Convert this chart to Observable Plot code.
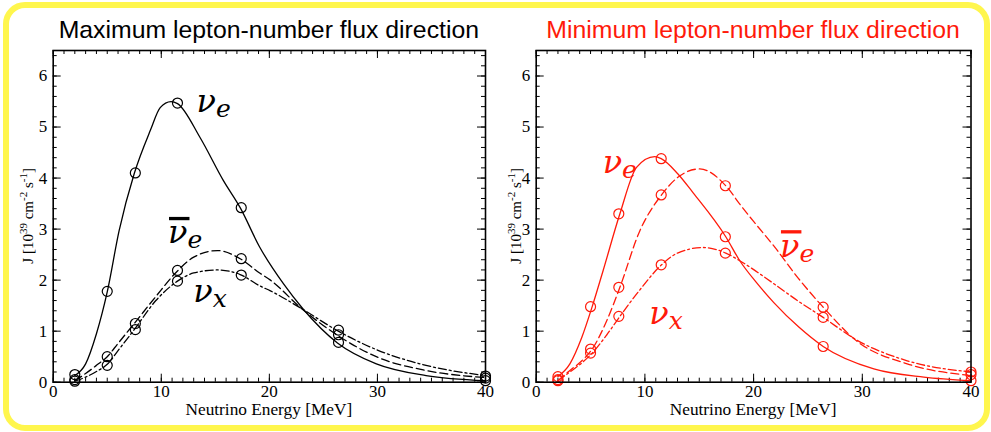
<!DOCTYPE html>
<html>
<head>
<meta charset="utf-8">
<script src="https://cdn.jsdelivr.net/npm/d3@7"></script>
<script src="https://cdn.jsdelivr.net/npm/@observablehq/plot@0.6"></script>
<style>
  body { margin: 0; background: #fff; }
  #page { position: relative; width: 991px; height: 432px; overflow: hidden; background: #fff; }
  .panel { position: absolute; top: 0; }
  .title { position: absolute; top: 18px; font-family: "Liberation Sans", Arial, sans-serif; font-size: 24.8px;
           white-space: nowrap; transform: translateX(-50%); line-height: 1; }
  #border { position: absolute; left: 3px; top: 2px; width: 987px; height: 429px; box-sizing: border-box;
            border: 6px solid #fff64d; border-radius: 22px; pointer-events: none; }
</style>
</head>
<body>
<div id="page"></div>
<script>
// Energy grid of the simulated spectra [MeV]
const energies = [2, 5, 7.6, 11.5, 17.4, 26.4, 40];

// Maximum lepton-number flux direction, simulated J [10^39 cm^-2 s^-1]
const maxNue    = [0.15, 1.78, 4.10, 5.47, 3.42, 0.78, 0.03];
const maxNuebar = [0.05, 0.50, 1.15, 2.19, 2.42, 0.93, 0.08];
const maxNux    = [0.02, 0.33, 1.03, 1.98, 2.10, 1.02, 0.12];

// Minimum lepton-number flux direction, simulated J
const minNue    = [0.11, 1.48, 3.30, 4.38, 2.85, 0.70, 0.03];
const minNuebar = [0.05, 0.65, 1.86, 3.67, 3.85, 1.47, 0.15];
const minNux    = [0.03, 0.57, 1.29, 2.30, 2.53, 1.27, 0.20];

// Fitted spectra (energy samples and J values)
const maxFitNueE    = [2, 3, 4, 5, 6.1, 7.5, 9, 9.9, 10.9, 11.5, 13.6, 15.75, 17.3, 19.1, 21.3, 23.1, 26.3, 29.9, 34.5, 40];
const maxFitNue     = [0.13, 0.36, 0.95, 1.77, 2.97, 4.09, 4.94, 5.38, 5.50, 5.46, 4.79, 3.95, 3.42, 2.65, 1.93, 1.44, 0.77, 0.36, 0.13, 0.03];
const maxFitNuebarE = [2, 3, 4, 5, 6, 7.5, 9.5, 11.5, 13, 15.2, 17.3, 19.1, 20.1, 23, 26.3, 30, 34.5, 40];
const maxFitNuebar  = [0.03, 0.17, 0.33, 0.50, 0.76, 1.15, 1.68, 2.18, 2.45, 2.58, 2.42, 2.14, 2.00, 1.44, 0.92, 0.49, 0.23, 0.09];
const maxFitNuxE    = [2, 3, 4, 5, 6, 7.5, 9.5, 11.5, 13, 15.2, 17.3, 19.1, 20.1, 23, 26.3, 30, 34.5, 40];
const maxFitNux     = [0.02, 0.10, 0.21, 0.35, 0.62, 1.03, 1.60, 1.98, 2.14, 2.20, 2.11, 1.89, 1.79, 1.44, 1.01, 0.63, 0.33, 0.13];

const minFitNueE    = [2, 3.1, 4.2, 5.15, 6.16, 7.7, 9.23, 10.9, 11.5, 13, 14.44, 17.44, 18.73, 20.27, 21.86, 24.16, 26.4, 31.06, 35.66, 40];
const minFitNue     = [0.11, 0.36, 0.88, 1.48, 2.19, 3.30, 4.21, 4.42, 4.38, 4.09, 3.71, 2.85, 2.38, 1.95, 1.56, 1.08, 0.70, 0.26, 0.10, 0.03];
const minFitNuebarE = [2, 3.1, 4.2, 5.15, 6.5, 7.7, 9.5, 11.53, 13, 15.05, 17.44, 18.8, 19.96, 21.86, 24.1, 26.4, 29.53, 34.13, 40];
const minFitNuebar  = [0.03, 0.23, 0.42, 0.65, 1.21, 1.86, 2.95, 3.67, 4.01, 4.18, 3.85, 3.47, 3.16, 2.67, 2.04, 1.47, 0.80, 0.36, 0.13];
const minFitNuxE    = [2, 3.1, 4.2, 5.15, 6.5, 7.7, 9.5, 11.53, 13, 15.36, 17.44, 18.73, 21.86, 24.1, 26.4, 29.53, 34.13, 40];
const minFitNux     = [0.03, 0.20, 0.38, 0.57, 0.93, 1.29, 1.80, 2.30, 2.53, 2.64, 2.53, 2.38, 1.93, 1.59, 1.27, 0.82, 0.42, 0.20];

// Axis ticks
const xMajor = [0, 10, 20, 30, 40];
const xMinor = d3.range(0, 41, 1);
const yMajor = [0, 1, 2, 3, 4, 5, 6];
const yMinor = d3.range(0, 6.5, 0.2).map(v => +v.toFixed(1));

// Species labels: anchor of the nu glyph in data units
const maxLabels = [
  {sub: "e", bar: false, E: 13.3, J: 5.28},
  {sub: "e", bar: true,  E: 10.67, J: 2.71},
  {sub: "x", bar: false, E: 13.0, J: 1.57}
];
const minLabels = [
  {sub: "e", bar: false, E: 6.16, J: 4.08},
  {sub: "e", bar: true,  E: 22.47, J: 2.45},
  {sub: "x", bar: false, E: 10.45, J: 1.14}
];

const titles = ["Maximum lepton-number flux direction", "Minimum lepton-number flux direction"];
const RED = "#ff1a0a";

const DASH = {solid: null, dashed: "8,4", dashdot: "8,3,2,3"};

function table(E, J) { return E.map((e, i) => ({E: e, J: J[i]})); }

function panel(cfg) {
  const W = cfg.width, H = 432;
  const mT = 50, mB = 50.3, mL = cfg.mL, mR = cfg.mR;
  const plotW = W - mL - mR, plotH = H - mT - mB;
  const color = cfg.color;
  const marks = [
    // inward ticks on all four sides
    Plot.tickX(xMinor, {x: d => d, insetTop: plotH - 4, stroke: "black"}),
    Plot.tickX(xMinor, {x: d => d, insetBottom: plotH - 4, stroke: "black"}),
    Plot.tickX(xMajor, {x: d => d, insetTop: plotH - 8, stroke: "black"}),
    Plot.tickX(xMajor, {x: d => d, insetBottom: plotH - 8, stroke: "black"}),
    Plot.tickY(yMinor, {y: d => d, insetRight: plotW - 4, stroke: "black"}),
    Plot.tickY(yMinor, {y: d => d, insetLeft: plotW - 4, stroke: "black"}),
    Plot.tickY(yMajor, {y: d => d, insetRight: plotW - 8, stroke: "black"}),
    Plot.tickY(yMajor, {y: d => d, insetLeft: plotW - 8, stroke: "black"})
  ];
  for (const s of cfg.series) {
    marks.push(Plot.line(table(s.fitE, s.fitJ), {
      x: "E", y: "J", stroke: color, strokeWidth: 1.3,
      strokeDasharray: DASH[s.style], curve: "monotone-x"
    }));
  }
  for (const s of cfg.series) {
    marks.push(Plot.dot(table(energies, s.points), {
      x: "E", y: "J", r: 5, stroke: color, strokeWidth: 1.2, fill: "none"
    }));
  }
  marks.push(
    Plot.frame({stroke: "black", strokeWidth: 1.6}),
    Plot.axisX(xMajor, {tickSize: 0, tickPadding: 3, label: null, fontSize: 17, tickFormat: d => String(d)}),
    Plot.axisY(yMajor, {tickSize: 0, tickPadding: 6, label: null, fontSize: 17, tickFormat: d => String(d)})
  );
  return Plot.plot({
    width: W, height: H,
    marginTop: mT, marginBottom: mB, marginLeft: mL, marginRight: mR,
    x: {domain: [0, 40]},
    y: {domain: [0, 6.5]},
    style: {fontFamily: "'Liberation Serif', 'Times New Roman', serif", fontSize: "17px",
            background: "transparent", overflow: "visible", color: "black"},
    marks
  });
}

function decorate(chart, cfg) {
  const svg = d3.select(chart);
  const x = chart.scale("x"), y = chart.scale("y");
  const x0 = x.apply(0), x1 = x.apply(40), y0 = y.apply(0), y1 = y.apply(6.5);

  // x axis title
  svg.append("text")
    .attr("x", (x0 + x1) / 2).attr("y", y0 + 33.5)
    .attr("text-anchor", "middle").attr("font-size", 17.3)
    .attr("font-family", "'Liberation Serif', serif").attr("fill", "black")
    .text("Neutrino Energy [MeV]");

  // y axis title with superscripts
  const yt = svg.append("text")
    .attr("transform", `translate(${x0 - cfg.yTitleGap},${(y0 + y1) / 2}) rotate(-90)`)
    .attr("text-anchor", "middle").attr("font-size", 15)
    .attr("font-family", "'Liberation Serif', serif").attr("fill", "black");
  const parts = [["J [10", 0], ["39", 1], [" cm", 0], ["-2", 1], [" s", 0], ["-1", 1], ["]", 0]];
  let prev = 0;
  for (const [t, sup] of parts) {
    const shift = sup ? -6 : 0;
    yt.append("tspan").attr("dy", shift - prev).attr("font-size", sup ? 11 : 15).text(t);
    prev = shift;
  }

  // species labels
  for (const L of cfg.labels) {
    const px = x.apply(L.E), py = y.apply(L.J);
    const g = svg.append("g").attr("fill", cfg.color).attr("text-anchor", "start")
      .attr("font-family", "'DejaVu Serif', serif").attr("font-style", "italic");
    const t = g.append("text").attr("x", px).attr("y", py).attr("font-size", 32).attr("text-anchor", "start");
    const nu = t.append("tspan").text("ν");
    t.append("tspan").attr("font-size", 25).attr("dy", 5).attr("dx", 0).text(L.sub);
    if (L.bar) {
      const w = nu.node().getComputedTextLength();
      g.append("rect").attr("x", px + 1).attr("y", py - 26.5)
        .attr("width", w + 1).attr("height", 3.3);
    }
  }
}

const page = document.getElementById("page");
const cfgs = [
  {left: 0, width: 495, mL: 52.7, mR: 10, color: "black", yTitleGap: 20, labels: maxLabels,
   series: [
     {points: maxNue, fitE: maxFitNueE, fitJ: maxFitNue, style: "solid"},
     {points: maxNuebar, fitE: maxFitNuebarE, fitJ: maxFitNuebar, style: "dashed"},
     {points: maxNux, fitE: maxFitNuxE, fitJ: maxFitNux, style: "dashdot"}
   ]},
  {left: 495, width: 496, mL: 40.7, mR: 20.5, color: RED, yTitleGap: 15, labels: minLabels,
   series: [
     {points: minNue, fitE: minFitNueE, fitJ: minFitNue, style: "solid"},
     {points: minNuebar, fitE: minFitNuebarE, fitJ: minFitNuebar, style: "dashed"},
     {points: minNux, fitE: minFitNuxE, fitJ: minFitNux, style: "dashdot"}
   ]}
];

cfgs.forEach((cfg, i) => {
  const holder = document.createElement("div");
  holder.className = "panel";
  holder.style.left = cfg.left + "px";
  page.appendChild(holder);
  const chart = panel(cfg);
  holder.appendChild(chart);
  decorate(chart, cfg);

  const x = chart.scale("x");
  const title = document.createElement("div");
  title.className = "title";
  title.textContent = titles[i];
  title.style.left = (cfg.left + (x.apply(0) + x.apply(40)) / 2) + "px";
  title.style.color = i === 0 ? "black" : RED;
  page.appendChild(title);
});

const border = document.createElement("div");
border.id = "border";
page.appendChild(border);
</script>
</body>
</html>
